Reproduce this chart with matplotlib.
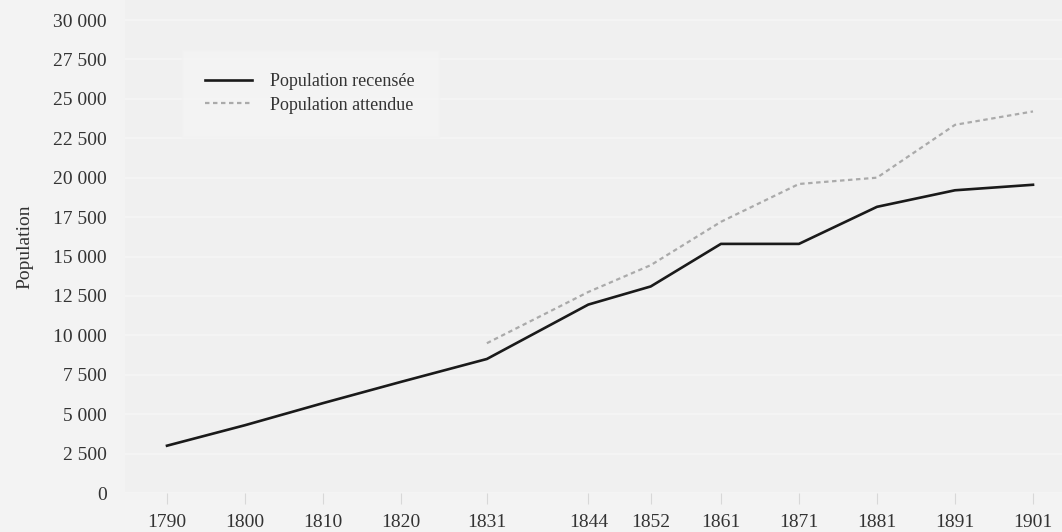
import matplotlib.pyplot as plt
from matplotlib.ticker import FuncFormatter

plt.rcParams["font.family"] = "serif"
plt.rcParams["font.serif"] = ["Liberation Serif", "DejaVu Serif"]

years = [1790, 1800, 1810, 1820, 1831, 1844, 1852, 1861, 1871, 1881, 1891, 1901]
recensee = [3000, 4300, 5700, 7050, 8500, 11950, 13100, 15800, 15800, 18150, 19200, 19550]

years_att = [1831, 1844, 1852, 1861, 1871, 1881, 1891, 1901]
attendue = [9500, 12750, 14450, 17200, 19600, 20000, 23350, 24200]

yticks = list(range(0, 30001, 2500))

W, H = 1062, 532
fig = plt.figure(figsize=(W / 100, H / 100), dpi=100, facecolor="#f3f3f3")
ax = fig.add_axes([125 / W, 1 - 493 / H, 1 - 125 / W, 493 / H])
ax.set_facecolor("#f0f0f0")

ax.plot(years, recensee, color="#1a1a1a", lw=1.9, label="Population recensée",
        solid_joinstyle="round")
ax.plot(years_att, attendue, color="#aaaaaa", lw=1.6, linestyle=(0, (2, 1.6)),
        label="Population attendue")

# 1790 at px 167, 1901 at px 1033
ppy = (1033 - 167) / (1901 - 1790)
ax.set_xlim(1790 - (167 - 125) / ppy, 1901 + (W - 1033) / ppy)
ppv = (493 - 20) / 30000
ax.set_ylim(0, 30000 + 20 / ppv)

ax.set_xticks(years)
ax.set_yticks(yticks)
ax.yaxis.set_major_formatter(FuncFormatter(lambda v, p: f"{int(v):,}".replace(",", " ")))
ax.tick_params(axis="x", length=8, width=0.8, color="#d8d8d8", pad=7,
               labelsize=14, labelcolor="#333333")
ax.tick_params(axis="y", length=0, pad=13, labelsize=14, labelcolor="#333333")
ax.yaxis.grid(True, color="#f6f6f6", lw=1.2)
ax.set_axisbelow(True)
for s in ax.spines.values():
    s.set_visible(False)

ax.set_ylabel("Population", fontsize=14, color="#333333", labelpad=14)

leg = ax.legend(loc="upper left", bbox_to_anchor=(182 / W, 1 - 50 / H),
                bbox_transform=fig.transFigure, fontsize=13, frameon=True,
                fancybox=False, borderpad=1.3, handlelength=2.6, handletextpad=1.0,
                labelspacing=0.35, borderaxespad=0)
leg.get_frame().set_facecolor("#f4f4f4")
leg.get_frame().set_edgecolor("#f2f2f2")
for t in leg.get_texts():
    t.set_color("#333333")

plt.savefig("out.png", dpi=100, facecolor=fig.get_facecolor())
